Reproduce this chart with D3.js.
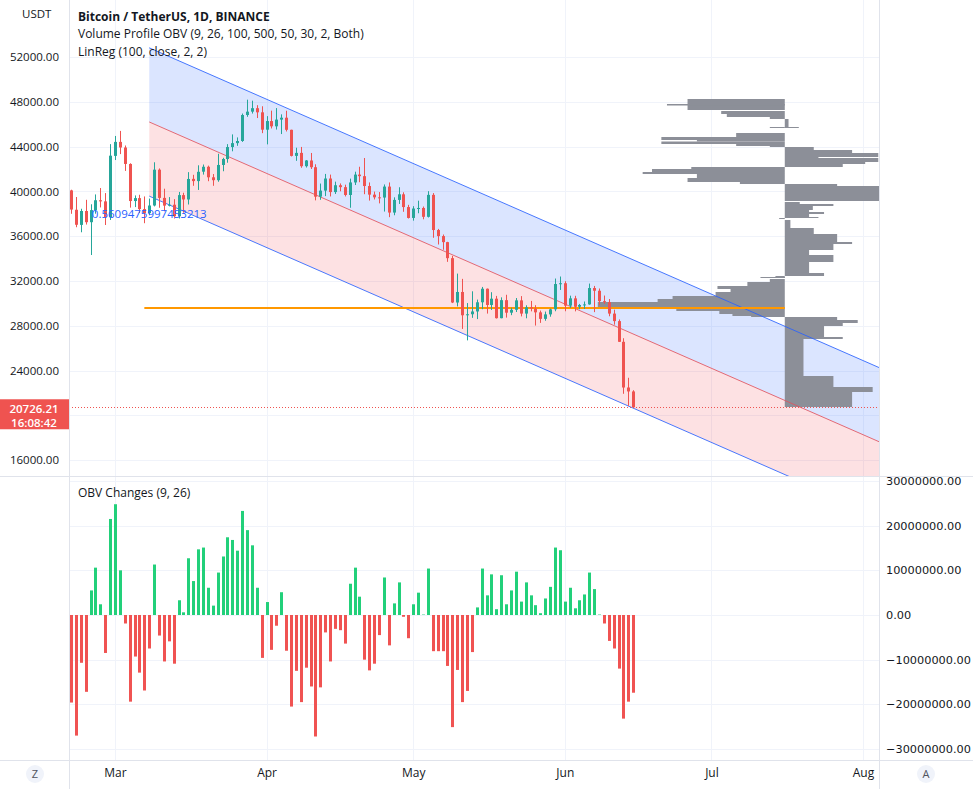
<!DOCTYPE html>
<html><head><meta charset="utf-8">
<script src="https://cdn.jsdelivr.net/npm/d3@7"></script>
<style>
html,body{margin:0;padding:0;background:#fff;}
svg{display:block;font-family:"Open Sans","Noto Sans",sans-serif;}
</style></head><body>
<svg id="c" width="973" height="789"></svg>
<script>
// ---------------- DATA ----------------
const firstDay = "2022-02-20";
const candleOpen = [40090,38360,37010,38250,37250,38330,39210,39110,37700,
43170,44420,43920,42450,39140,39400,38420,38060,38740,41940,39420,38730,38810,37780,39670,39280,41120,40920,41760,42200,41260,41000,42360,42890,43960,44310,44500,46820,47120,47430,47060,
45510,46280,45810,46410,46580,45500,43170,43440,42250,42760,42160,39530,40070,41150,39940,40550,40380,39680,40800,41500,41360,40480,39710,39470,39450,40430,38110,39240,39740,38600,
37630,38470,38520,37730,39690,36550,36010,35470,34040,30080,31020,28940,29030,29280,30100,31310,29860,30420,28680,30290,29170,29430,30270,29090,29650,29540,29200,28620,29020,29470,31730,
31800,29800,30450,29700,29860,29910,31370,31130,30200,30110,29090,28420,26570,22490,22140];
const candleHigh = [40150,39500,38450,39250,38850,39730,40300,39850,44220,
44950,45400,44100,42510,39640,39700,39550,39360,42600,42050,40240,39490,39310,39950,39880,41720,41480,42330,42400,42300,41550,43360,43000,44220,45090,44820,46950,48190,48100,47700,47600,
46720,47210,47440,46880,47200,45510,43900,43970,42800,43430,42420,40700,41560,41500,40870,40710,40600,41140,41760,42200,42980,40800,39980,39940,40620,40800,39470,40370,39920,38800,
38680,39170,38650,40020,39850,36650,36150,35500,34240,32660,32190,30030,31080,30340,31470,31330,31000,30670,30540,30770,29610,30480,30650,29830,30220,29840,29360,29270,29530,32220,32400,
31980,30690,30680,29950,30170,31770,31560,31330,30700,30390,29440,28570,26890,23360,22250];
const candleLow = [38000,36800,36350,37040,34320,38010,38570,37000,37450,
42800,43330,41830,38550,38600,38090,37160,37870,38660,38540,38220,38660,37580,37580,38100,38830,40500,40130,41500,40910,40500,40860,41800,42560,43580,44070,44420,46660,46950,46550,45200,
44200,45620,45520,45120,45350,43120,42730,42110,42130,42000,39200,39250,39580,39550,39770,40010,39550,38540,40570,40820,39750,39180,39280,38930,38200,37700,37870,38880,38180,37580,
37390,38050,37510,37670,35860,35260,34790,33710,30030,29730,27720,26700,28710,28600,29480,29090,29420,28650,28670,28730,28950,29230,28840,28670,29290,28020,28260,28450,28810,29300,31200,
29300,29590,29290,29480,29500,29880,29220,29840,29950,28850,28100,26560,21930,20850,20650];
const candleClose = [38380,37020,38250,37250,38330,39210,39110,37700,43190,
44420,43920,42450,39140,39400,38420,38060,38740,41940,39420,38730,38810,37780,39670,39280,41110,40920,41750,42200,41260,41000,42360,42890,43960,44310,44500,46820,47120,47430,47060,45510,
46280,45810,46410,46580,45500,43170,43440,42250,42760,42160,39530,40070,41150,39940,40550,40380,39680,40800,41500,41360,40480,39710,39470,39450,40430,38110,39240,39740,38600,37630,
38470,38520,37730,39690,36550,36010,35470,34040,30080,31020,28940,29030,29280,30100,31310,29860,30420,28680,30290,29170,29430,30270,29090,29650,29540,29200,28620,29020,29470,31730,31800,
29800,30450,29700,29860,29910,31370,31130,30200,30110,29090,28420,26570,22490,22140,20726.21];

// OBV changes histogram (millions)
const obvChange = [-19.6,-27,-10.7,-17.2,5.5,10.6,2.4,-8.5,21.5,
24.8,10,-1.9,-19.4,-9.3,-12.9,-16.9,-7.5,11.3,-4.6,-10.4,-5.9,-10.9,3.3,0.6,12.7,7.6,14.7,15.1,6.1,2.1,9.5,13.1,17.4,16.8,14.4,23.3,19,15.6,6.1,-9.6,
2.9,-7.8,-2.4,5.1,-8,-20.5,-12.5,-19.5,-11.8,-16,-27.2,-16.2,-3.9,-10.4,-3.1,-3.4,-6.4,7,10.6,4.1,-10,-12.4,-10.9,-4.5,8.4,-6.8,2.6,7.3,-0.4,-5.2,
2.4,5,0.1,10.4,-8.1,-8.1,-8.1,-11.4,-25.1,-12.3,-19.5,-17,-8.3,1.7,10.4,4.4,9.1,1.3,8.9,2.4,5.5,9.7,3,7.3,4.4,2.2,0.4,3.7,6.3,15.1,14.5,
3,6.1,1.5,3.3,4.6,9.5,5.8,0.1,-1.9,-5.8,-7.5,-12,-23.2,-19.4,-17.4];

// Linear regression channel
const linregDates = ["2022-03-08","2022-06-15"];
const linregMid = [46200, 27180];
const linregDev = 6620;
const pearsonR = "0.5609475997453213";

// Volume profile rows: high price, low price, signed volume (negative = left side)
const profileDate = "2022-07-16";
const pocPrice = 29590;
const pocStartDate = "2022-03-07";
const profileHigh = [48250,47803,47178,46911,46643,46464,45750,45750,45214,44857,44589,44455,44232,44054,43964,43696,43428,43071,42982,42625,42446,42178,41999,41731,41553,41196,40839,40660,40482,
39054,38875,38696,38339,38160,37982,37714,37625,37446,36732,36196,35482,35303,34768,34321,33696,32714,32446,32357,32178,31911,31553,31286,31018,30661,30393,30125,29500,29321,29053,28875,
28786,28518,28250,27982,27000,26821,23518,22536,22089];
const profileLow = [47268,47669,46911,46643,46464,45661,45661,45661,44857,44589,44455,44232,44054,43964,43696,43428,43071,42982,42625,42446,42178,41999,41731,41553,41196,40839,40660,40482,39143,
38875,38696,38339,38160,37982,37714,37625,37536,36732,36196,35482,35303,34768,34321,33696,32714,32446,32268,32268,31911,31553,31286,31018,30661,30393,30125,29500,29321,29053,28875,28786,
28518,28250,27982,27000,26821,23518,22536,22089,20750];
const profileVol = [-52,-63,-34,-31,-8,2,7.5,-8,-26,-66,-47,-66,-26,-8,15.5,36,50,18,50,43,31,-50,-71,-76,-47,-52,-24,28,59,
8,26,15,13,21,13,18,-3,3,15.5,28,36,26,13,26,13,21,-5,-13,-8,-20,-36,-29,-37,-60,-68,-100,-58,-35,-28,-18,
28,39,31,21,31,10,26,47,36];

const priceGrid = [52000,48000,44000,40000,36000,32000,28000,24000,20000,16000];
const priceTickLabels = [52000,48000,44000,40000,36000,32000,28000,24000,16000];
const obvTicks = [30e6,20e6,10e6,0,-10e6,-20e6,-30e6];
const monthTicks = ["2022-03-01","2022-04-01","2022-05-01","2022-06-01","2022-07-01","2022-08-01"];
const lastPrice = 20726.21;
const countdown = "16:08:42";

// ---------------- LAYOUT ----------------
const plotL = 69, plotR = 879, paneSep = 476, timeTop = 760;
const svg = d3.select("#c");
const parse = d3.utcParse("%Y-%m-%d");
const dates = candleOpen.map((_, i) => d3.utcDay.offset(parse(firstDay), i));

const x = d3.scaleUtc().domain([parse("2022-03-01"), parse("2022-08-01")]).range([115, 863]);
const y = d3.scaleLinear().domain([16000, 52000]).range([460.2, 57]);
const yo = d3.scaleLinear().domain([-30e6, 30e6]).range([749, 481]);
const pv = d3.scaleLinear().domain([0, 100]).range([0, 187]);

const gridC = "#f0f3fa", borderC = "#e0e3eb", textC = "#131722";
const upC = "#26a69a", dnC = "#ef5350";

const defs = svg.append("defs");
defs.append("clipPath").attr("id","cp").append("rect").attr("x",plotL).attr("y",0).attr("width",plotR-plotL).attr("height",paneSep);
defs.append("clipPath").attr("id","co").append("rect").attr("x",plotL).attr("y",paneSep).attr("width",plotR-plotL).attr("height",timeTop-paneSep);

// grid
const g = svg.append("g");
g.selectAll(".hg").data(priceGrid).join("line").attr("x1",plotL).attr("x2",plotR)
  .attr("y1",d=>Math.round(y(d))+0.5).attr("y2",d=>Math.round(y(d))+0.5).attr("stroke",gridC);
g.selectAll(".og").data(obvTicks).join("line").attr("x1",plotL).attr("x2",plotR)
  .attr("y1",d=>Math.round(yo(d))+0.5).attr("y2",d=>Math.round(yo(d))+0.5).attr("stroke",gridC);
g.selectAll(".vg").data(monthTicks).join("line")
  .attr("x1",d=>Math.round(x(parse(d)))+0.5).attr("x2",d=>Math.round(x(parse(d)))+0.5)
  .attr("y1",0).attr("y2",timeTop).attr("stroke",gridC);

// ---------------- PRICE PANE ----------------
const pp = svg.append("g").attr("clip-path","url(#cp)");
const d0 = parse(linregDates[0]), d1 = parse(linregDates[1]);
const slope = (linregMid[1]-linregMid[0]) / d3.utcDay.count(d0, d1);
const dEnd = x.invert(plotR + 2);
const midEnd = linregMid[0] + slope * d3.utcDay.count(d0, dEnd);
const xs = x(d0), xe = x(dEnd);
const mid = [linregMid[0], midEnd];
pp.append("path").attr("d", `M${xs},${y(mid[0]+linregDev)}L${xe},${y(mid[1]+linregDev)}L${xe},${y(mid[1])}L${xs},${y(mid[0])}Z`)
  .attr("fill","rgba(41,98,255,0.17)");
pp.append("path").attr("d", `M${xs},${y(mid[0])}L${xe},${y(mid[1])}L${xe},${y(mid[1]-linregDev)}L${xs},${y(mid[0]-linregDev)}Z`)
  .attr("fill","rgba(242,54,69,0.15)");

// volume profile
const px0 = x(parse(profileDate));
pp.selectAll(".vp").data(profileVol).join("rect")
  .attr("x", d => d < 0 ? px0 - pv(-d) : px0)
  .attr("width", d => pv(Math.abs(d)))
  .attr("y", (d,i) => y(profileHigh[i]))
  .attr("height", (d,i) => Math.max(1, y(profileLow[i]) - y(profileHigh[i])))
  .attr("fill", "#8c8f98");

// channel lines
[[linregDev,"#2962ff"],[0,"#e0545f"],[-linregDev,"#2962ff"]].forEach(([off,c]) => {
  pp.append("line").attr("x1",xs).attr("y1",y(mid[0]+off)).attr("x2",xe).attr("y2",y(mid[1]+off))
    .attr("stroke",c).attr("stroke-width",1).attr("stroke-opacity",0.85);
});

// POC line
pp.append("line").attr("x1",x(parse(pocStartDate))).attr("x2",px0)
  .attr("y1",y(pocPrice)).attr("y2",y(pocPrice)).attr("stroke","#ff9800").attr("stroke-width",2);

// candles
const cg = pp.append("g");
dates.forEach((d,i) => {
  const o=candleOpen[i], h=candleHigh[i], l=candleLow[i], c=candleClose[i];
  const col = c >= o ? upC : dnC;
  const cx = Math.round(x(d));
  cg.append("line").attr("x1",cx+0.5).attr("x2",cx+0.5).attr("y1",y(h)).attr("y2",y(l)).attr("stroke",col);
  const top = y(Math.max(o,c)), bot = y(Math.min(o,c));
  cg.append("rect").attr("x",cx-1).attr("width",3).attr("y",top).attr("height",Math.max(1,bot-top)).attr("fill",col);
});

// last price dotted line
pp.append("line").attr("x1",plotL).attr("x2",plotR).attr("y1",Math.round(y(lastPrice))+0.5).attr("y2",Math.round(y(lastPrice))+0.5)
  .attr("stroke",dnC).attr("stroke-dasharray","1,2");

// pearson text
pp.append("text").attr("x",xs).attr("y",y(mid[0]-linregDev)+22).attr("text-anchor","middle")
  .attr("font-size",11.5).attr("fill","#2962ff").text(pearsonR);

// ---------------- OBV PANE ----------------
const op = svg.append("g").attr("clip-path","url(#co)");
op.selectAll(".ob").data(obvChange).join("rect")
  .attr("x",(d,i)=>Math.round(x(dates[i]))-1).attr("width",3)
  .attr("y",d=>Math.min(yo(0),yo(d*1e6))).attr("height",d=>Math.abs(yo(d*1e6)-yo(0)))
  .attr("fill",d=>d>=0?"#22d07a":"#f05352");

// ---------------- AXES ----------------
const pa = svg.append("g").attr("transform",`translate(59,0)`)
  .call(d3.axisLeft(y).tickValues(priceTickLabels).tickFormat(d3.format(".2f")).tickSize(0).tickPadding(0));
pa.select(".domain").remove();
pa.selectAll("text").attr("font-size",11.5).attr("fill",textC).attr("font-family","'Open Sans',sans-serif");

const oa = svg.append("g").attr("transform",`translate(886,0)`)
  .call(d3.axisRight(yo).tickValues(obvTicks).tickFormat(d3.format(".2f")).tickSize(0).tickPadding(0));
oa.select(".domain").remove();
oa.selectAll("text").attr("font-size",11.3).attr("fill",textC).attr("font-family","'DejaVu Sans',sans-serif");

const ta = svg.append("g").attr("transform",`translate(0,${timeTop+8})`)
  .call(d3.axisBottom(x).tickValues(monthTicks.map(parse)).tickFormat(d3.utcFormat("%b")).tickSize(0).tickPadding(0));
ta.select(".domain").remove();
ta.selectAll("text").attr("font-size",12).attr("fill",textC).attr("font-family","'Open Sans',sans-serif");

// borders
const b = svg.append("g").attr("stroke",borderC);
b.append("line").attr("x1",plotL+0.5).attr("x2",plotL+0.5).attr("y1",0).attr("y2",789);
b.append("line").attr("x1",plotR+0.5).attr("x2",plotR+0.5).attr("y1",0).attr("y2",789);
b.append("line").attr("x1",0).attr("x2",973).attr("y1",paneSep+0.5).attr("y2",paneSep+0.5);
b.append("line").attr("x1",0).attr("x2",973).attr("y1",timeTop+0.5).attr("y2",timeTop+0.5);

// last price label
svg.append("rect").attr("x",0).attr("y",y(lastPrice)-8).attr("width",plotL).attr("height",30).attr("fill",dnC);
svg.append("text").attr("x",34).attr("y",y(lastPrice)+5.5).attr("text-anchor","middle").attr("fill","#fff").attr("font-size",11.5).attr("font-weight",600).text(d3.format(".2f")(lastPrice));
svg.append("text").attr("x",34).attr("y",y(lastPrice)+19.5).attr("text-anchor","middle").attr("fill","#fff").attr("font-size",11.5).attr("font-weight",600).text(countdown);

// texts
svg.append("text").attr("x",22).attr("y",18).attr("font-size",11.5).attr("fill",textC).text("USDT");
svg.append("text").attr("x",78).attr("y",21).attr("font-size",12).attr("font-weight","bold").attr("fill",textC).text("Bitcoin / TetherUS, 1D, BINANCE");
svg.append("text").attr("x",78).attr("y",38).attr("font-size",12).attr("fill",textC).text("Volume Profile OBV (9, 26, 100, 500, 50, 30, 2, Both)");
svg.append("text").attr("x",78).attr("y",56).attr("font-size",12).attr("fill",textC).text("LinReg (100, close, 2, 2)");
svg.append("text").attr("x",78).attr("y",497).attr("font-size",12).attr("fill",textC).text("OBV Changes (9, 26)");

// Z / A buttons
[[35,"Z"],[926,"A"]].forEach(([cx,t]) => {
  svg.append("circle").attr("cx",cx).attr("cy",774).attr("r",9).attr("fill","#f0f3fa");
  svg.append("text").attr("x",cx).attr("y",778).attr("text-anchor","middle").attr("font-size",11).attr("fill","#50535e").text(t);
});
</script></body></html>
